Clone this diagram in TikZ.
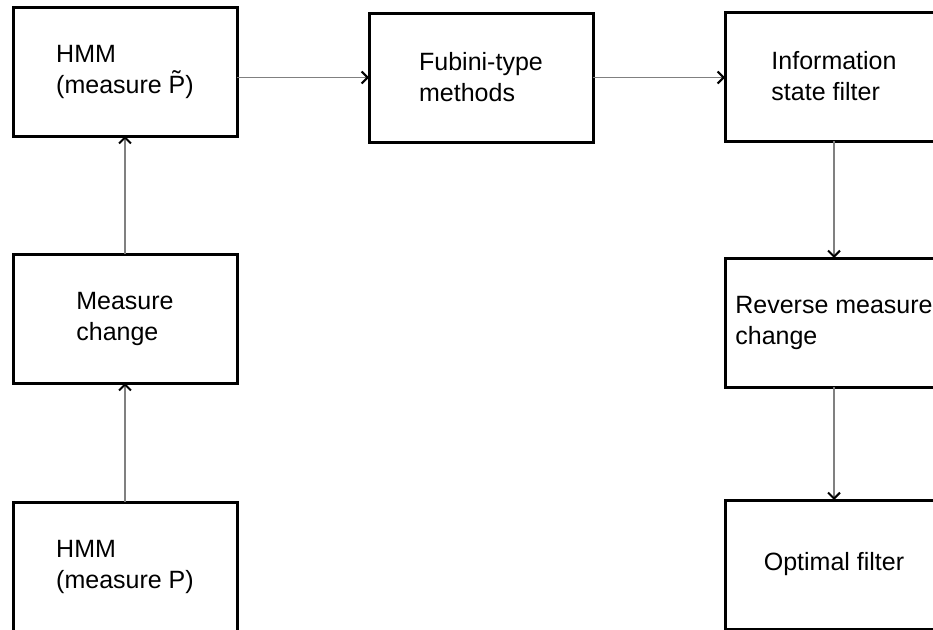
\documentclass[tikz,border=0pt]{standalone}
\usepackage{fontspec}
\setmainfont{Liberation Sans}
\usetikzlibrary{arrows.meta}
\begin{document}
\begin{tikzpicture}[x=1pt,y=-1pt,
  blk/.style={draw,rectangle,line width=3pt,anchor=north west,outer sep=0pt,
    inner sep=0pt,align=left,minimum height=129pt,
    font=\fontsize{25}{31}\selectfont},
  arr/.style={draw=black!50,line width=1.3pt,
    -{Straight Barb[color=black,length=6pt,width=12pt,line width=2pt]}}]
\clip (0,0) rectangle (933,629);
% left column
\node[blk,minimum width=224pt] (hmmt) at (13,7) {HMM\\(measure P̃)};
\node[blk,minimum width=224pt] (mc) at (13,254) {Measure\\change};
\node[blk,minimum width=224pt] (hmmp) at (13,502) {HMM\\(measure P)};
% middle
\node[blk,minimum width=224pt] (fub) at (369,13) {Fubini-type\\methods};
% right column
\node[blk,minimum width=218pt] (info) at (725,12) {Information\\state filter};
\node[blk,minimum width=218pt] (rev) at (725,258) {Reverse measure\\change};
\node[blk,minimum width=218pt] (opt) at (725,500) {Optimal filter};
% connectors
\draw[arr] (hmmp.north) -- (mc.south);
\draw[arr] (mc.north) -- (hmmt.south);
\draw[arr] (hmmt.east |- fub.west) -- (fub.west);
\draw[arr] (fub.east) -- (fub.east -| info.west);
\draw[arr] (info.south) -- (rev.north);
\draw[arr] (rev.south) -- (opt.north);
\end{tikzpicture}
\end{document}
